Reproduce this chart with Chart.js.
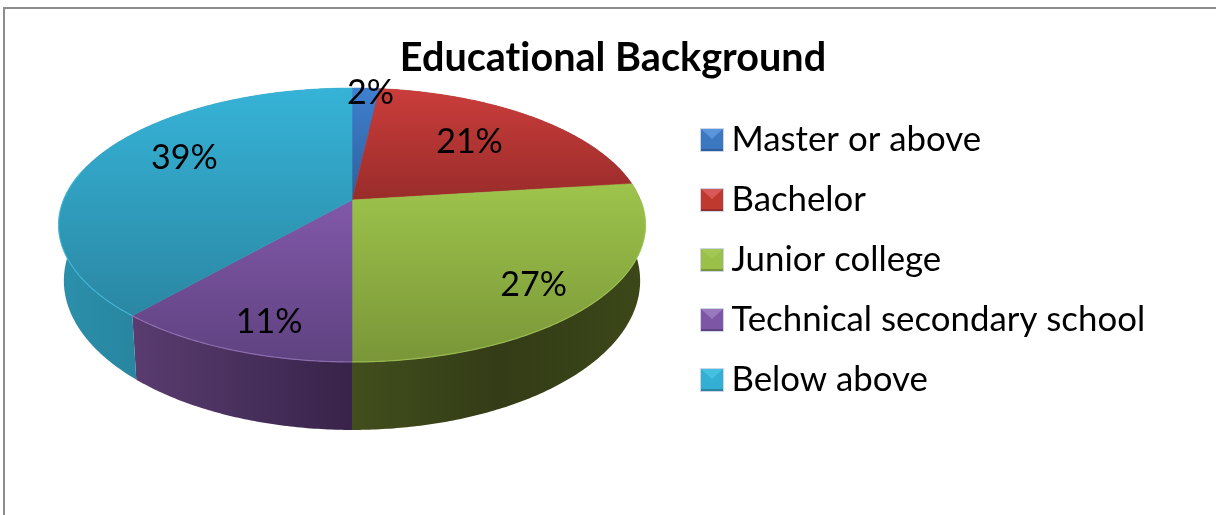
<!DOCTYPE html>
<html lang="en">
<head>
    <meta charset="UTF-8">
    <title>Educational Background</title>
    <script src="https://cdn.jsdelivr.net/npm/chart.js"></script>
    <style>
        html, body { margin: 0; padding: 0; background: #fff; overflow: hidden; }
        #frame { position: absolute; left: 3px; top: 7px; right: 0; bottom: 0; border-left: 2px solid #8c8c8c; border-top: 2px solid #8c8c8c; }
        canvas { position: absolute; left: 0; top: 0; filter: blur(0.4px); }
    </style>
</head>
<body>
    <div id="frame"></div>
    <canvas id="educationChart" width="1216" height="515"></canvas>

    <script>
        // Chart data
        const categories = ['Master or above', 'Bachelor', 'Junior college', 'Technical secondary school', 'Below above'];
        const shares = [1.8, 21.2, 27, 11.4, 38.6];

        // Slice styling
        const baseColors = ['#3c78c0', '#c0392f', '#9bc04a', '#7d56a5', '#33afd3'];
        const faceTop = ['#3f80cf', '#ca3d3b', '#9dc44b', '#8158a9', '#36b3d7'];
        const faceBottom = ['#2e5f9c', '#992c2a', '#7a9638', '#5f4280', '#2a87a3'];
        const wallLeft = ['#234a78', '#6e2120', '#424e1d', '#5a3c70', '#2b90ac'];
        const wallMid = ['#234a78', '#6e2120', '#333c16', '#48305c', '#267c95'];
        const wallRight = ['#234a78', '#6e2120', '#3c4719', '#38234a', '#206a7f'];
        const rimLight = ['#5a94da', '#d85a58', '#a3c755', '#9a78bd', '#45c0e2'];

        // Label nudges from the projected slice middle
        const labelNudge = [[9, -30], [-4, -2], [29, 23], [-9, 31], [1, -13]];

        // Perspective of the tilted disc
        const apexX = 352, apexY = 200, radiusX = 288.5, radiusY = 132.4, persp = -0.1825;
        // Lower rim of the disc
        const depthY = 53.4, lowerX = 0.982, lowerY = 1.09;

        function project(angle, r) {
            const t = angle + Math.PI / 2;
            const u = r * Math.sin(t), v = -r * Math.cos(t);
            const w = 1 + persp * v;
            return { x: radiusX * u / w, y: radiusY * v / w };
        }

        function rimPoints(start, end, lower) {
            const steps = Math.max(2, Math.ceil((end - start) / 0.01));
            const pts = [];
            for (let i = 0; i <= steps; i++) {
                const p = project(start + (end - start) * i / steps, 1);
                pts.push(lower
                    ? { x: apexX + p.x * lowerX, y: apexY + depthY + p.y * lowerY }
                    : { x: apexX + p.x, y: apexY + p.y });
            }
            return pts;
        }

        function bevelIcon(color, dark, light) {
            // Little bevelled legend square
            const c = document.createElement('canvas');
            c.width = 24; c.height = 24;
            const g = c.getContext('2d');
            g.fillStyle = 'rgba(190,205,225,0.8)';
            g.fillRect(0, 0, 24, 24);
            g.fillStyle = color;
            g.fillRect(1, 1, 22, 22);
            g.fillStyle = light;
            g.beginPath(); g.moveTo(1, 1); g.lineTo(23, 1); g.lineTo(12, 11); g.closePath(); g.fill();
            g.fillStyle = dark;
            g.fillRect(1, 21, 22, 2);
            return c;
        }
        const legendIcons = baseColors.map((c, i) => bevelIcon(c, faceBottom[i], rimLight[i]));

        const tiltedPie = {
            id: 'tiltedPie',
            afterLayout(chart) {
                const legend = chart.legend;
                legend.left = 684.8;
                legend.top = 97.4;
                chart.titleBlock.left += 5;
                chart.titleBlock.right += 5;
            },
            beforeDraw(chart) {
                // Lato joins "ti" otherwise, a letter spacing switches the ligature off
                chart.ctx.letterSpacing = '0.01px';
            },
            beforeDatasetDraw(chart, args) {
                const ctx = chart.ctx;
                const arcs = args.meta.data;

                // Side walls first, the top face covers the back part
                arcs.forEach((arc, i) => {
                    const top = rimPoints(arc.startAngle, arc.endAngle, false);
                    const low = rimPoints(arc.startAngle, arc.endAngle, true);
                    const xs = top.concat(low).map(p => p.x);
                    const grad = ctx.createLinearGradient(Math.min(...xs), 0, Math.max(...xs), 0);
                    grad.addColorStop(0, wallLeft[i]);
                    grad.addColorStop(0.5, wallMid[i]);
                    grad.addColorStop(1, wallRight[i]);
                    ctx.beginPath();
                    top.forEach((p, n) => n ? ctx.lineTo(p.x, p.y) : ctx.moveTo(p.x, p.y));
                    low.reverse().forEach(p => ctx.lineTo(p.x, p.y));
                    ctx.closePath();
                    ctx.fillStyle = grad;
                    ctx.fill();
                });

                // Top faces
                arcs.forEach((arc, i) => {
                    const rim = rimPoints(arc.startAngle, arc.endAngle, false);
                    const ys = rim.map(p => p.y).concat(apexY);
                    const grad = ctx.createLinearGradient(0, Math.min(...ys), 0, Math.max(...ys));
                    grad.addColorStop(0, faceTop[i]);
                    grad.addColorStop(1, faceBottom[i]);
                    ctx.beginPath();
                    ctx.moveTo(apexX, apexY);
                    rim.forEach(p => ctx.lineTo(p.x, p.y));
                    ctx.closePath();
                    ctx.fillStyle = grad;
                    ctx.fill();
                    ctx.strokeStyle = grad;
                    ctx.lineWidth = 0.6;
                    ctx.stroke();
                });

                // Light edge where the top meets the wall, front side only
                const frontStart = 0, frontEnd = Math.PI * 1.07;
                arcs.forEach((arc, i) => {
                    const from = Math.max(arc.startAngle, frontStart);
                    const to = Math.min(arc.endAngle, frontEnd);
                    if (to <= from) return;
                    ctx.beginPath();
                    rimPoints(from, to, false).forEach((p, n) => n ? ctx.lineTo(p.x, p.y) : ctx.moveTo(p.x, p.y));
                    ctx.strokeStyle = rimLight[i];
                    ctx.globalAlpha = 0.7;
                    ctx.lineWidth = 1.2;
                    ctx.stroke();
                    ctx.globalAlpha = 1;
                });

                // Percent labels
                ctx.fillStyle = '#000';
                ctx.font = '34px Lato';
                ctx.textAlign = 'center';
                ctx.textBaseline = 'middle';
                arcs.forEach((arc, i) => {
                    const mid = project((arc.startAngle + arc.endAngle) / 2, 0.65);
                    ctx.fillText(Math.round(shares[i]) + '%', apexX + mid.x + labelNudge[i][0], apexY + mid.y + labelNudge[i][1]);
                });
                return false;
            }
        };

        new Chart(document.getElementById('educationChart'), {
            type: 'pie',
            data: {
                labels: categories,
                datasets: [{ data: shares, backgroundColor: baseColors }]
            },
            options: {
                responsive: false,
                animation: false,
                plugins: {
                    title: {
                        display: true,
                        text: 'Educational Background',
                        color: '#000',
                        font: { family: 'Lato', size: 39.6, weight: 'bold' },
                        padding: { top: 34, bottom: 0 }
                    },
                    legend: {
                        position: 'right',
                        align: 'start',
                        labels: {
                            color: '#000',
                            font: { family: 'Lato', size: 34.8 },
                            boxWidth: 4,
                            padding: 25.2,
                            usePointStyle: true,
                            generateLabels: chart => categories.map((name, i) => ({
                                text: name,
                                pointStyle: legendIcons[i],
                                fillStyle: baseColors[i],
                                strokeStyle: baseColors[i],
                                lineWidth: 0,
                                index: i
                            }))
                        }
                    },
                    tooltip: { enabled: false }
                }
            },
            plugins: [tiltedPie]
        });
    </script>
</body>
</html>
